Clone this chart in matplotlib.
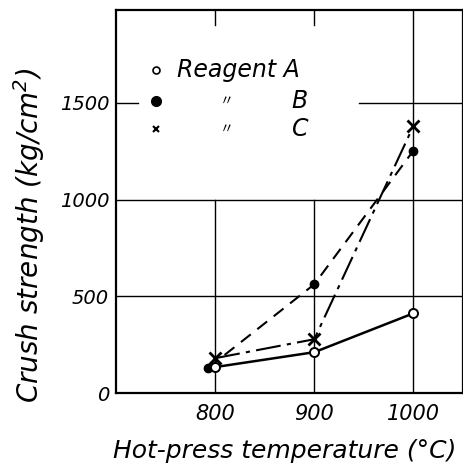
import matplotlib
matplotlib.use("Agg")
import matplotlib.pyplot as plt

# hot-press temperature (deg C)
temps = [800, 900, 1000]
# crush strength (kg/cm2)
reagent_a = [134, 211, 412]
reagent_b = [130, 562, 1253]
reagent_c = [180, 278, 1381]
b_first_temp = 793

x_ticks = [800, 900, 1000]
y_ticks = [0, 500, 1000, 1500]
y_tick_labels = ["0", "500", "1000", "1500"]

plt.rcParams["font.family"] = ["DejaVu Sans"]
plt.rcParams["font.style"] = "italic"

fig = plt.figure(figsize=(4.64, 4.69), dpi=100)
ax = fig.add_axes([0.25, 0.162, 0.748, 0.817])
ax.set_xlim(700, 1050)
ax.set_ylim(0, 1980)

# grid, broken around the key like in the original
grid_kw = dict(color="black", linewidth=1.0, zorder=1)
for t in [800, 900]:
    ax.plot([t, t], [0, 1000], **grid_kw)
    ax.plot([t, t], [1900, 1980], **grid_kw)
ax.plot([1000, 1000], [0, 1980], **grid_kw)
ax.plot([700, 1050], [500, 500], **grid_kw)
ax.plot([700, 1050], [1000, 1000], **grid_kw)
ax.plot([700, 722], [1500, 1500], **grid_kw)
ax.plot([945, 1050], [1500, 1500], **grid_kw)

ax.plot(temps, reagent_a, color="black", linewidth=1.8, marker="o",
        markersize=6.5, markerfacecolor="white", markeredgewidth=1.4, zorder=4)
ax.plot([b_first_temp] + temps[1:], reagent_b, color="black", linewidth=1.5,
        linestyle=(0, (6, 4)), marker="o", markersize=6, zorder=3)
ax.plot(temps, reagent_c, color="black", linewidth=1.5,
        linestyle=(0, (12, 3, 2, 3)), marker="x", markersize=8,
        markeredgewidth=2, zorder=3)

# key
ax.plot([740], [1670], marker="o", markersize=5, color="black",
        markerfacecolor="white", markeredgewidth=1.2, linestyle="none")
ax.plot([740], [1510], marker="o", markersize=7, color="black", linestyle="none")
ax.plot([740], [1365], marker="x", markersize=5, color="black",
        markeredgewidth=1.5, linestyle="none")
ax.text(762, 1670, "Reagent A", fontsize=17, va="center", ha="left")
ax.text(812, 1510, "\u3003", fontsize=10, va="center", ha="center",
        family=["Noto Sans CJK JP", "DejaVu Sans"])
ax.text(812, 1365, "\u3003", fontsize=10, va="center", ha="center",
        family=["Noto Sans CJK JP", "DejaVu Sans"])
ax.text(877, 1510, "B", fontsize=17, va="center", ha="left")
ax.text(877, 1365, "C", fontsize=17, va="center", ha="left")

ax.set_xticks(x_ticks)
ax.set_xticklabels([str(t) for t in x_ticks], fontsize=15)
ax.set_yticks(y_ticks)
ax.set_yticklabels(y_tick_labels, fontsize=14)
ax.tick_params(axis="x", length=0, pad=8)
ax.tick_params(axis="y", length=0, pad=5)
for s in ax.spines.values():
    s.set_linewidth(1.6)

ax.set_xlabel("Hot-press temperature (\u00b0C)", fontsize=18)
ax.set_ylabel("Crush strength (kg/cm$^2$)", fontsize=20)
ax.xaxis.set_label_coords(0.487, -0.12)
ax.yaxis.set_label_coords(-0.198, 0.41)

fig.savefig("out.png", dpi=100)
